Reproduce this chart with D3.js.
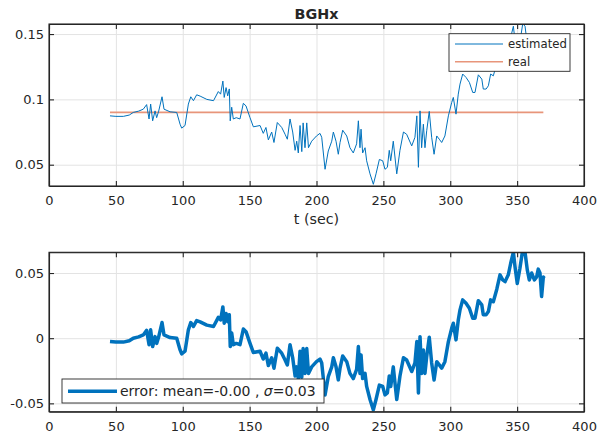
<!DOCTYPE html>
<html>
<head>
<meta charset="utf-8">
<script src="https://cdn.jsdelivr.net/npm/d3@7"></script>
<style>
  body { margin: 0; background: #fff; }
  text { font-family: "DejaVu Sans", sans-serif; fill: #262626; }
</style>
</head>
<body>
<div id="chart"></div>
<script>

// DATA
var tSec = [45.6, 50, 55.6, 60, 63, 67, 70.5, 73, 74.8, 76, 77.5, 79.3, 80.5, 82, 84.5, 86, 90.5, 95.5, 98, 99.2,
  101.7, 104.2, 106, 108, 110.4, 113, 118, 123, 126.6, 128.3, 130, 131, 132.4, 133.6, 134.8, 135.5, 136.6, 137.8, 140, 142.8,
  145.3, 147.3, 150.3, 152.8, 157.8, 160.2, 162.2, 164, 166.5, 168.2, 170.7, 174, 176.5, 178.2, 180.2, 182.2, 184, 185.2, 186.4, 187.7,
  189, 190, 191.4, 192.7, 194, 196.4, 200, 202.6, 203.9, 206.4, 208.8, 211.4, 212.6, 214.6, 216.3, 217.6, 219.6, 222.6, 225, 227.5,
  230, 231.3, 232.5, 233.3, 234.5, 236.3, 237.5, 240, 242.5, 244.5, 247, 249.5, 251.2, 253, 254.4, 255.5, 257.4, 260, 262.4, 265,
  267.4, 271.2, 273.6, 275, 276.2, 277.4, 278.6, 279.9, 281.1, 282.4, 284.3, 286.1, 287.9, 289.9, 291.8, 293.6, 296, 298.6, 301.1, 302.3,
  304.3, 306, 307.3, 309.3, 311.8, 314.3, 316.8, 318.5, 321, 323.6, 324.7, 326.8, 328.5, 330.2, 332.2, 334.8, 337.2, 339.2, 341, 343.4,
  345.2, 347.2, 348.4, 350.1, 352.1, 354.2, 355.9, 357.6, 359.1, 360.9, 362.9, 364.6, 365.8, 367.1, 368.3, 369.6, 370.3];

var estimated = [0.0874, 0.087, 0.087, 0.088, 0.09, 0.091, 0.0925, 0.096, 0.085, 0.0964, 0.0836, 0.0912, 0.086, 0.091, 0.102, 0.0925, 0.0905, 0.09, 0.081, 0.078,
  0.080, 0.0964, 0.102, 0.099, 0.1035, 0.1025, 0.100, 0.099, 0.106, 0.104, 0.114, 0.1015, 0.109, 0.1027, 0.108, 0.0836, 0.094, 0.085, 0.086, 0.085,
  0.097, 0.095, 0.086, 0.079, 0.080, 0.074, 0.0785, 0.069, 0.075, 0.067, 0.0823, 0.0785, 0.0733, 0.0695, 0.085, 0.075, 0.061, 0.068, 0.059, 0.080,
  0.060, 0.082, 0.063, 0.082, 0.063, 0.068, 0.072, 0.074, 0.071, 0.0465, 0.0605, 0.068, 0.075, 0.068, 0.058, 0.067, 0.0764, 0.072, 0.063, 0.059,
  0.066, 0.0836, 0.063, 0.0772, 0.059, 0.063, 0.053, 0.043, 0.035, 0.043, 0.054, 0.053, 0.0465, 0.048, 0.061, 0.053, 0.068, 0.043, 0.061, 0.075,
  0.0733, 0.0644, 0.071, 0.0874, 0.048, 0.0912, 0.063, 0.081, 0.063, 0.076, 0.0908, 0.071, 0.058, 0.072, 0.0695, 0.067, 0.072, 0.0874, 0.0977, 0.1015,
  0.0887, 0.104, 0.1117, 0.1194, 0.1168, 0.113, 0.1053, 0.1053, 0.1188, 0.1155, 0.1079, 0.1079, 0.1104, 0.1194, 0.118, 0.1276, 0.1386, 0.1347, 0.1334, 0.1386,
  0.1475, 0.156, 0.145, 0.132, 0.1437, 0.158, 0.156, 0.1424, 0.1347, 0.14, 0.1347, 0.137, 0.143, 0.14, 0.122, 0.137, 0.136];

var errorVals = [-0.0026, -0.003, -0.003, -0.002, 0, 0.001, 0.0025, 0.006, -0.005, 0.0064, -0.0064, 0.0012, -0.004, 0.001, 0.012, 0.0025, 0.0005, 0, -0.009, -0.012,
  -0.010, 0.0064, 0.012, 0.009, 0.0135, 0.0125, 0.010, 0.009, 0.016, 0.014, 0.024, 0.0115, 0.019, 0.0127, 0.018, -0.0064, 0.004, -0.005, -0.004, -0.005,
  0.007, 0.005, -0.004, -0.011, -0.010, -0.016, -0.0115, -0.021, -0.015, -0.023, -0.0077, -0.0115, -0.0167, -0.0205, -0.005, -0.015, -0.029, -0.022, -0.031, -0.010,
  -0.030, -0.008, -0.027, -0.008, -0.027, -0.022, -0.018, -0.016, -0.019, -0.0435, -0.0295, -0.022, -0.015, -0.022, -0.032, -0.023, -0.0136, -0.018, -0.027, -0.031,
  -0.024, -0.0064, -0.027, -0.0128, -0.031, -0.027, -0.037, -0.047, -0.055, -0.047, -0.036, -0.037, -0.0435, -0.042, -0.029, -0.037, -0.022, -0.047, -0.029, -0.015,
  -0.0167, -0.0256, -0.019, -0.0026, -0.042, 0.0012, -0.027, -0.009, -0.027, -0.014, 0.0008, -0.019, -0.032, -0.018, -0.0205, -0.023, -0.018, -0.0026, 0.0077, 0.0115,
  -0.0013, 0.014, 0.0217, 0.0294, 0.0268, 0.023, 0.0153, 0.0153, 0.0288, 0.0255, 0.0179, 0.0179, 0.0204, 0.0294, 0.028, 0.0376, 0.0486, 0.0447, 0.0434, 0.0486,
  0.0575, 0.066, 0.055, 0.042, 0.0537, 0.068, 0.066, 0.0524, 0.0447, 0.05, 0.0447, 0.047, 0.053, 0.05, 0.032, 0.047, 0.046];

var realT = [45.6, 369.6];
var realVals = [0.09, 0.09];

var xTicks = [0, 50, 100, 150, 200, 250, 300, 350, 400];
var xTickLabels = ["0", "50", "100", "150", "200", "250", "300", "350", "400"];
var topYTicks = [0.05, 0.1, 0.15];
var topYLabels = ["0.05", "0.1", "0.15"];
var botYTicks = [-0.05, 0, 0.05];
var botYLabels = ["-0.05", "0", "0.05"];

var blue = "#0072BD";
var orange = "#E8957A";
var axisColor = "#262626";

var svg = d3.select("#chart")
  .append("svg")
    .attr("width", 608)
    .attr("height", 441);

var x = d3.scaleLinear().domain([0, 400]).range([49, 584]);

var topBox = {top: 24, bottom: 186};
var botBox = {top: 252.3, bottom: 411.7};

var yTop = d3.scaleLinear().domain([0.0337, 0.1577]).range([topBox.bottom, topBox.top]);
var yBot = d3.scaleLinear().domain([-0.0564, 0.0659]).range([botBox.bottom, botBox.top]);

// draws grid, box and ticks for one panel
function drawFrame(box, y, yTicks, yLabels, id) {
  var h = box.bottom - box.top;

  // grid
  svg.append("g")
    .attr("transform", "translate(0," + box.bottom + ")")
    .call(d3.axisBottom(x).tickValues(xTicks.slice(1, -1)).tickSize(-h).tickFormat(""))
    .call(function(g) { g.select(".domain").remove(); })
    .selectAll("line").attr("stroke", "#e3e3e3");
  svg.append("g")
    .attr("transform", "translate(49,0)")
    .call(d3.axisLeft(y).tickValues(yTicks).tickSize(-535).tickFormat(""))
    .call(function(g) { g.select(".domain").remove(); })
    .selectAll("line").attr("stroke", "#e3e3e3");

  svg.append("clipPath").attr("id", id)
    .append("rect")
      .attr("x", 49).attr("y", box.top)
      .attr("width", 535).attr("height", h);
}

function drawAxes(box, y, yTicks, yLabels) {
  var axes = [
    svg.append("g").attr("transform", "translate(0," + box.bottom + ")")
      .call(d3.axisBottom(x).tickValues(xTicks).tickSize(-5).tickSizeOuter(0).tickPadding(10)
        .tickFormat(function(d, i) { return xTickLabels[i]; })),
    svg.append("g").attr("transform", "translate(0," + box.top + ")")
      .call(d3.axisTop(x).tickValues(xTicks).tickSize(-5).tickSizeOuter(0).tickFormat("")),
    svg.append("g").attr("transform", "translate(49,0)")
      .call(d3.axisLeft(y).tickValues(yTicks).tickSize(-5).tickSizeOuter(0).tickPadding(5)
        .tickFormat(function(d, i) { return yLabels[i]; })),
    svg.append("g").attr("transform", "translate(584,0)")
      .call(d3.axisRight(y).tickValues(yTicks).tickSize(-5).tickSizeOuter(0).tickFormat(""))
  ];
  axes.forEach(function(g) {
    g.attr("font-size", 13).style("color", axisColor);
    g.selectAll("line, path").attr("stroke-width", 1.1);
  });
  // domain paths for left/right stretch only the y range; close the box
  svg.append("rect")
    .attr("x", 49).attr("y", box.top)
    .attr("width", 535).attr("height", box.bottom - box.top)
    .attr("fill", "none").attr("stroke", axisColor).attr("stroke-width", 1.1);
}

/***************** TOP PANEL *****************/
drawFrame(topBox, yTop, topYTicks, topYLabels, "clipTop");

var lineTop = d3.line()
  .x(function(d) { return x(d[0]); })
  .y(function(d) { return yTop(d[1]); });

svg.append("path")
  .datum(d3.zip(realT, realVals))
  .attr("clip-path", "url(#clipTop)")
  .attr("fill", "none")
  .attr("stroke", orange)
  .attr("stroke-width", 1.8)
  .attr("d", lineTop);

svg.append("path")
  .datum(d3.zip(tSec, estimated))
  .attr("clip-path", "url(#clipTop)")
  .attr("fill", "none")
  .attr("stroke", blue)
  .attr("stroke-width", 1)
  .attr("stroke-linejoin", "round")
  .attr("d", lineTop);

drawAxes(topBox, yTop, topYTicks, topYLabels);

svg.append("text")
  .attr("x", 316.5).attr("y", 18.5)
  .attr("text-anchor", "middle")
  .attr("font-size", 14.3)
  .attr("font-weight", "bold")
  .text("BGHx");

svg.append("text")
  .attr("x", 316.5).attr("y", 224)
  .attr("text-anchor", "middle")
  .attr("font-size", 14.3)
  .text("t (sec)");

// legend (top)
var legTop = svg.append("g");
legTop.append("rect")
  .attr("x", 449).attr("y", 33.7).attr("width", 121).attr("height", 37.6)
  .attr("fill", "#fff").attr("stroke", axisColor).attr("stroke-width", 0.9);
legTop.append("line")
  .attr("x1", 455).attr("x2", 503).attr("y1", 44).attr("y2", 44)
  .attr("stroke", blue).attr("stroke-width", 1);
legTop.append("line")
  .attr("x1", 455).attr("x2", 503).attr("y1", 61.7).attr("y2", 61.7)
  .attr("stroke", orange).attr("stroke-width", 1.6);
legTop.append("text").attr("x", 508).attr("y", 48.2).attr("font-size", 11.7).text("estimated");
legTop.append("text").attr("x", 508).attr("y", 65.9).attr("font-size", 11.7).text("real");

/***************** BOTTOM PANEL *****************/
drawFrame(botBox, yBot, botYTicks, botYLabels, "clipBot");

svg.append("path")
  .datum(d3.zip(tSec, errorVals))
  .attr("clip-path", "url(#clipBot)")
  .attr("fill", "none")
  .attr("stroke", blue)
  .attr("stroke-width", 3.5)
  .attr("stroke-linejoin", "round")
  .attr("d", d3.line()
    .x(function(d) { return x(d[0]); })
    .y(function(d) { return yBot(d[1]); }));

drawAxes(botBox, yBot, botYTicks, botYLabels);

// legend (bottom)
var legBot = svg.append("g");
legBot.append("rect")
  .attr("x", 62).attr("y", 379).attr("width", 262).attr("height", 24)
  .attr("fill", "#fff").attr("stroke", axisColor).attr("stroke-width", 0.9);
legBot.append("line")
  .attr("x1", 68).attr("x2", 117).attr("y1", 391.3).attr("y2", 391.3)
  .attr("stroke", blue).attr("stroke-width", 3.5);
var legText = legBot.append("text").attr("x", 120).attr("y", 396.3).attr("font-size", 14);
legText.append("tspan").text("error: mean=-0.00 , ");
legText.append("tspan").attr("font-style", "italic").text("σ");
legText.append("tspan").text("=0.03");

</script>
</body>
</html>
